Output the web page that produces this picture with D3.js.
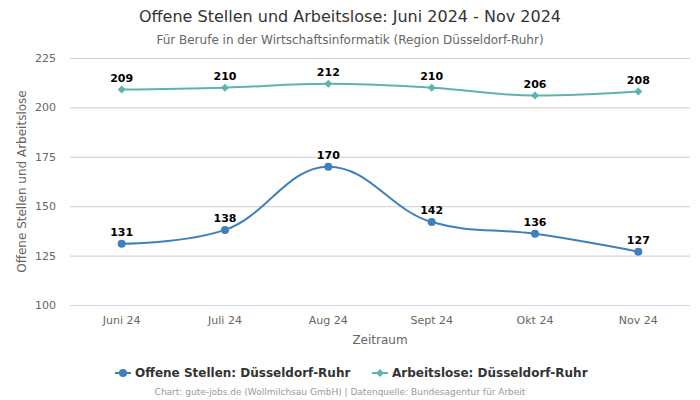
<!DOCTYPE html>
<html><head><meta charset="utf-8">
<script src="https://cdn.jsdelivr.net/npm/d3@7"></script>
<style>body{margin:0;background:#fff;}svg{font-family:"DejaVu Sans",sans-serif;}</style>
</head><body>
<svg id="c" width="700" height="400"></svg>
<script>
const categories = ["Juni 24","Juli 24","Aug 24","Sept 24","Okt 24","Nov 24"];
const offeneStellen = [131,138,170,142,136,127];
const arbeitslose = [209,210,212,210,206,208];
const yTicks = [100,125,150,175,200,225];
const seriesNames = ["Offene Stellen: Düsseldorf-Ruhr","Arbeitslose: Düsseldorf-Ruhr"];

const svg = d3.select("#c");
const L = 70, R = 690, T = 58, B = 305;
const x = d3.scaleBand().domain(categories).range([L, R]);
const y = d3.scaleLinear().domain([100,225]).range([B, T]);
const cx = d => x(d) + x.bandwidth()/2;

svg.append("text").attr("x",350).attr("y",22).attr("text-anchor","middle").attr("font-size",16).attr("fill","#333").text("Offene Stellen und Arbeitslose: Juni 2024 - Nov 2024");
svg.append("text").attr("x",350).attr("y",44).attr("text-anchor","middle").attr("font-size",12).attr("fill","#666").text("Für Berufe in der Wirtschaftsinformatik (Region Düsseldorf-Ruhr)");

// grid
svg.append("g").selectAll("line").data(yTicks.filter(t=>t!==100)).join("line")
  .attr("x1",L).attr("x2",R).attr("y1",d=>y(d)+0.5).attr("y2",d=>y(d)+0.5).attr("stroke","#ccc").attr("stroke-width",1);
svg.append("line").attr("x1",L).attr("x2",R).attr("y1",B+0.5).attr("y2",B+0.5).attr("stroke","#ccd6eb");

// y axis labels
const ya = svg.append("g").attr("transform",`translate(${L},0)`).call(d3.axisLeft(y).tickValues(yTicks).tickSize(0).tickPadding(14));
ya.select(".domain").remove();
ya.selectAll("text").attr("font-size",11).attr("fill","#666").attr("font-family","DejaVu Sans, sans-serif");
const xa = svg.append("g").attr("transform",`translate(0,${B})`).call(d3.axisBottom(x).tickSize(0).tickPadding(11));
xa.select(".domain").remove();
xa.selectAll("text").attr("font-size",11).attr("fill","#666").attr("font-family","DejaVu Sans, sans-serif");

svg.append("text").attr("transform",`translate(26,${(T+B)/2}) rotate(-90)`).attr("text-anchor","middle").attr("font-size",12).attr("fill","#666").text("Offene Stellen und Arbeitslose");
svg.append("text").attr("x",380).attr("y",344).attr("text-anchor","middle").attr("font-size",12).attr("fill","#666").text("Zeitraum");

function splinePath(pts){
  const s=1.5, den=2.5;
  const p=d3.path();
  const ctrl = pts.map((pt,i)=>{
    if(i===0||i===pts.length-1) return {l:[pt[0],pt[1]], r:[pt[0],pt[1]]};
    const [px,py]=pts[i-1], [nx,ny]=pts[i+1], [xx,yy]=pt;
    let lx=(s*xx+px)/den, ly=(s*yy+py)/den, rx=(s*xx+nx)/den, ry=(s*yy+ny)/den;
    if(rx!==lx){const c=((ry-ly)*(rx-xx))/(rx-lx)+yy-ry; ly+=c; ry+=c;}
    if(ly>py&&ly>yy){ly=Math.max(py,yy); ry=2*yy-ly;} else if(ly<py&&ly<yy){ly=Math.min(py,yy); ry=2*yy-ly;}
    if(ry>ny&&ry>yy){ry=Math.max(ny,yy); ly=2*yy-ry;} else if(ry<ny&&ry<yy){ry=Math.min(ny,yy); ly=2*yy-ry;}
    return {l:[lx,ly], r:[rx,ry]};
  });
  p.moveTo(pts[0][0],pts[0][1]);
  for(let i=1;i<pts.length;i++){
    p.bezierCurveTo(ctrl[i-1].r[0],ctrl[i-1].r[1],ctrl[i].l[0],ctrl[i].l[1],pts[i][0],pts[i][1]);
  }
  return p.toString();
}

const series = [
  {name:seriesNames[0], values:offeneStellen, color:"#3d80bb", sym:"circle"},
  {name:seriesNames[1], values:arbeitslose, color:"#5bb4ad", sym:"diamond"}
];
series.forEach(s=>{
  const pts = s.values.map((v,i)=>[cx(categories[i]), y(v)]);
  svg.append("path").attr("d",splinePath(pts)).attr("fill","none").attr("stroke",s.color).attr("stroke-width",2);
  const g = svg.append("g");
  if(s.sym==="circle"){
    g.selectAll("circle").data(pts).join("circle").attr("cx",d=>d[0]).attr("cy",d=>d[1]).attr("r",4).attr("fill",s.color);
  } else {
    g.selectAll("path").data(pts).join("path").attr("d",d=>`M${d[0]},${d[1]-4}L${d[0]+4},${d[1]}L${d[0]},${d[1]+4}L${d[0]-4},${d[1]}Z`).attr("fill",s.color);
  }
  svg.append("g").selectAll("text").data(s.values).join("text")
    .attr("x",(d,i)=>cx(categories[i])).attr("y",d=>y(d)-8).attr("text-anchor","middle")
    .attr("font-size",11).attr("font-weight","bold").attr("fill","#000").text(d=>d);
});

// legend
const lg = svg.append("g");
const legendItems = [{x:115, s:series[0]},{x:372, s:series[1]}];
legendItems.forEach(it=>{
  const ly=373;
  lg.append("line").attr("x1",it.x).attr("x2",it.x+16).attr("y1",ly).attr("y2",ly).attr("stroke",it.s.color).attr("stroke-width",2);
  if(it.s.sym==="circle") lg.append("circle").attr("cx",it.x+8).attr("cy",ly).attr("r",4).attr("fill",it.s.color);
  else lg.append("path").attr("d",`M${it.x+8},${ly-4}L${it.x+12},${ly}L${it.x+8},${ly+4}L${it.x+4},${ly}Z`).attr("fill",it.s.color);
  lg.append("text").attr("x",it.x+20).attr("y",ly+4).attr("font-size",12).attr("font-weight","bold").attr("fill","#333").text(it.s.name);
});
svg.append("text").attr("x",340).attr("y",395).attr("text-anchor","middle").attr("font-size",9).attr("fill","#999").text("Chart: gute-jobs.de (Wollmilchsau GmbH) | Datenquelle: Bundesagentur für Arbeit");
</script>
</body></html>
